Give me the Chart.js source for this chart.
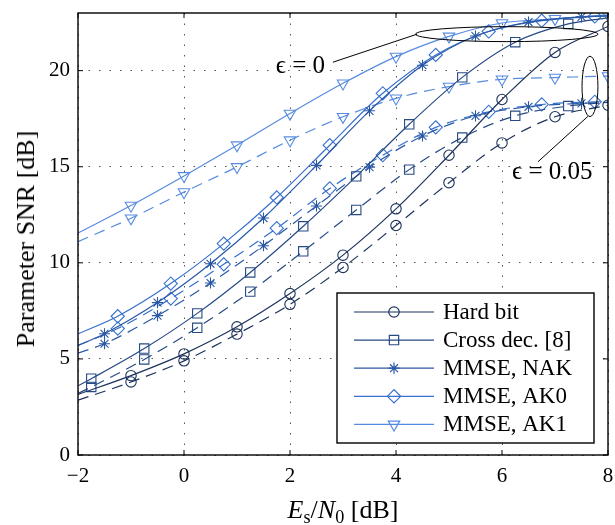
<!DOCTYPE html>
<html><head><meta charset="utf-8">
<script src="https://cdn.jsdelivr.net/npm/chart.js@4"></script>
<style>
html,body{margin:0;padding:0;background:#fff;}
#wrap{position:relative;width:615px;height:525px;overflow:hidden;}
canvas{position:absolute;left:0;top:0;}
.lbl{position:absolute;font-family:"Liberation Serif","Times New Roman",serif;color:#000;white-space:nowrap;line-height:1;}
#ytitle{left:26px;top:239px;font-size:26px;transform:translate(-50%,-50%) rotate(-90deg);}
#xtitle{left:343px;top:510px;font-size:26px;transform:translate(-50%,-50%);}
sub{font-size:0.7em;vertical-align:-0.3em;line-height:0;font-style:normal;}
</style></head><body>
<div id="wrap">
<canvas id="c" width="615" height="525"></canvas>
<div id="ytitle" class="lbl">Parameter SNR [dB]</div>
<div id="xtitle" class="lbl"><i>E</i><sub>s</sub>/<i>N</i><sub>0</sub> [dB]</div>
</div>
<script>
// ---- data ----
const xTicks = [-2, 0, 2, 4, 6, 8];
const yTicks = [0, 5, 10, 15, 20];

const hardX      = [-2, -1, 0, 1, 2, 3, 4, 5, 6, 7, 8];
const hardSolid  = [3.15, 4.13, 5.26, 6.67, 8.40, 10.40, 12.81, 15.6, 18.5, 20.95, 22.3];
const hardDashed = [2.85, 3.80, 4.90, 6.29, 7.84, 9.76, 11.94, 14.17, 16.24, 17.6, 18.2];

const crossX      = [-2, -1.75, -0.75, 0.25, 1.25, 2.25, 3.25, 4.25, 5.25, 6.25, 7.25, 8];
const crossSolid  = [3.6, 3.97, 5.54, 7.37, 9.50, 11.90, 14.5, 17.21, 19.65, 21.48, 22.43, 22.75];
const crossDashed = [3.2, 3.54, 4.97, 6.62, 8.50, 10.6, 12.75, 14.85, 16.52, 17.65, 18.16, 18.35];

const nakX      = [-2, -1.5, -0.5, 0.5, 1.5, 2.5, 3.5, 4.5, 5.5, 6.5, 7.5, 8];
const nakSolid  = [5.7, 6.31, 7.93, 9.95, 12.33, 15.07, 17.91, 20.28, 21.8, 22.53, 22.8, 22.85];
const nakDashed = [5.3, 5.79, 7.25, 8.95, 10.89, 12.96, 14.98, 16.6, 17.65, 18.12, 18.3, 18.35];

const ak0X      = [-2, -1.25, -0.25, 0.75, 1.75, 2.75, 3.75, 4.75, 5.75, 6.75, 7.75, 8];
const ak0Solid  = [6.3, 7.22, 8.92, 11.0, 13.4, 16.12, 18.82, 20.82, 22.04, 22.6, 22.82, 22.85];
const ak0Dashed = [5.7, 6.58, 8.14, 9.92, 11.8, 13.87, 15.6, 17.05, 17.86, 18.24, 18.38, 18.4];

const ak1X      = [-2, -1, 0, 1, 2, 3, 4, 5, 6, 7, 8];
const ak1Solid  = [11.55, 12.98, 14.52, 16.12, 17.77, 19.34, 20.73, 21.78, 22.48, 22.7, 22.9];
const ak1Dashed = [11.1, 12.32, 13.68, 14.99, 16.38, 17.6, 18.56, 19.17, 19.55, 19.64, 19.72];

const seriesNames = ['Hard bit', 'Cross dec. [8]', 'MMSE, NAK', 'MMSE, AK0', 'MMSE, AK1'];

// ---- styling ----
const series = [
  {name: seriesNames[0], x: hardX,  solid: hardSolid,  dashed: hardDashed,  color: '#1d335c', style: 'circle',  r: 5.2, rot: 0},
  {name: seriesNames[1], x: crossX, solid: crossSolid, dashed: crossDashed, color: '#264a84', style: 'rect',    r: 6.6, rot: 0},
  {name: seriesNames[2], x: nakX,   solid: nakSolid,   dashed: nakDashed,   color: '#2a58a5', style: 'star',    r: 5.6, rot: 0},
  {name: seriesNames[3], x: ak0X,   solid: ak0Solid,   dashed: ak0Dashed,   color: '#3670cc', style: 'rectRot', r: 6.6, rot: 0},
  {name: seriesNames[4], x: ak1X,   solid: ak1Solid,   dashed: ak1Dashed,   color: '#578bdf', style: 'triangle',r: 6.6, rot: 180}
];
const FONT = '"Liberation Serif","Times New Roman",serif';

function makeDs(s, ys, dashed) {
  const n = s.x.length;
  const radii = s.x.map((x, i) =>
    (i === 0 || (i === n - 1 && !Number.isInteger(x - s.x[1]))) ? 0 : s.r);
  return {
    label: s.name + (dashed ? ' (ϵ = 0.05)' : ' (ϵ = 0)'),
    data: s.x.map((x, i) => ({x: x, y: ys[i]})),
    borderColor: s.color,
    borderWidth: 1.2,
    borderDash: dashed ? [11, 7] : [],
    pointStyle: s.style,
    pointRotation: s.rot,
    pointRadius: radii,
    pointHoverRadius: radii,
    pointBorderColor: s.color,
    pointBackgroundColor: 'rgba(0,0,0,0)',
    pointBorderWidth: 1.1,
    cubicInterpolationMode: 'monotone',
    fill: false
  };
}
const datasets = [];
series.forEach(s => { datasets.push(makeDs(s, s.solid, false)); datasets.push(makeDs(s, s.dashed, true)); });

// ---- annotation + frame + legend plugin ----
const framePlugin = {
  id: 'frame',
  afterDatasetsDraw(chart) {
    const {ctx, scales: {x, y}} = chart;
    const px = v => x.getPixelForValue(v), py = v => y.getPixelForValue(v);
    ctx.save();
    ctx.strokeStyle = '#000';
    ctx.lineWidth = 1;
    // epsilon = 0 group
    ctx.beginPath();
    ctx.ellipse(px(6.09), py(21.9), px(6.09 + 1.72) - px(6.09), py(21.9) - py(21.9 + 0.39), 0, 0, Math.PI * 2);
    ctx.stroke();
    ctx.beginPath(); ctx.moveTo(px(2.81), py(20.44)); ctx.lineTo(px(4.40), py(21.9)); ctx.stroke();
    // epsilon = 0.05 group
    ctx.beginPath();
    ctx.ellipse(px(7.66), py(19.18), px(7.66 + 0.15) - px(7.66), py(19.18) - py(19.18 + 1.57), 0, 0, Math.PI * 2);
    ctx.stroke();
    ctx.beginPath(); ctx.moveTo(px(7.62), py(17.62)); ctx.lineTo(px(6.68), py(15.26)); ctx.stroke();
    ctx.fillStyle = '#000';
    ctx.font = '25px ' + FONT;
    ctx.textBaseline = 'middle';
    ctx.textAlign = 'right';
    ctx.fillText('ϵ = 0', px(2.66), py(20.2));
    ctx.textAlign = 'left';
    ctx.fillText('ϵ = 0.05', px(6.19), py(14.69));
    ctx.restore();
  },
  afterDraw(chart) {
    const {ctx, chartArea: a, scales: {x, y}} = chart;
    ctx.save();
    // box
    ctx.strokeStyle = '#000';
    ctx.lineWidth = 1.4;
    ctx.strokeRect(a.left, a.top, a.right - a.left, a.bottom - a.top);
    // inward ticks
    ctx.lineWidth = 1;
    const tl = 5;
    ctx.beginPath();
    xTicks.forEach(v => { const p = x.getPixelForValue(v);
      ctx.moveTo(p, a.bottom); ctx.lineTo(p, a.bottom - tl);
      ctx.moveTo(p, a.top); ctx.lineTo(p, a.top + tl); });
    yTicks.forEach(v => { const p = y.getPixelForValue(v);
      ctx.moveTo(a.left, p); ctx.lineTo(a.left + tl, p);
      ctx.moveTo(a.right, p); ctx.lineTo(a.right - tl, p); });
    ctx.stroke();
    // legend
    const bw = 257, bh = 150;
    const bx = a.right - 14 - bw, by = a.bottom - 12 - bh;
    ctx.fillStyle = '#fff';
    ctx.fillRect(bx, by, bw, bh);
    ctx.lineWidth = 1.4;
    ctx.strokeStyle = '#000';
    ctx.strokeRect(bx, by, bw, bh);
    ctx.font = '23px ' + FONT;
    ctx.textBaseline = 'middle';
    ctx.textAlign = 'left';
    series.forEach((s, i) => {
      const cy = by + 19 + i * 28.1;
      ctx.strokeStyle = s.color;
      ctx.lineWidth = 1.2;
      ctx.setLineDash([]);
      ctx.beginPath(); ctx.moveTo(bx + 17, cy); ctx.lineTo(bx + 97, cy); ctx.stroke();
      ctx.fillStyle = 'rgba(0,0,0,0)';
      Chart.helpers.drawPoint(ctx, {pointStyle: s.style, rotation: s.rot, radius: s.r, borderWidth: 1.1}, bx + 57, cy);
      ctx.fillStyle = '#000';
      ctx.fillText(s.name, bx + 106, cy + 1);
    });
    ctx.restore();
  }
};

const fmt = v => v < 0 ? '\u2212' + Math.abs(v) : String(v);
const zeroPad = s => { s.paddingTop = 0; s.paddingBottom = 0; s.paddingLeft = 0; s.paddingRight = 0; };

new Chart(document.getElementById('c'), {
  type: 'line',
  data: {datasets: datasets},
  plugins: [framePlugin],
  options: {
    responsive: false,
    animation: false,
    events: [],
    layout: {autoPadding: false, padding: {left: 0, right: 7, top: 13, bottom: 0}},
    plugins: {legend: {display: false}, tooltip: {enabled: false}},
    scales: {
      x: {
        type: 'linear', min: -2, max: 8,
        afterBuildTicks: s => { s.ticks = xTicks.map(v => ({value: v})); },
        afterFit: s => { s.height = 70; zeroPad(s); },
        grid: {color: '#555', lineWidth: 1, drawTicks: false},
        border: {display: false, dash: [1.5, 9]},
        ticks: {font: {family: FONT, size: 21}, color: '#000', padding: 9, callback: fmt, maxRotation: 0}
      },
      y: {
        type: 'linear', min: 0, max: 23,
        afterBuildTicks: s => { s.ticks = yTicks.map(v => ({value: v})); },
        afterFit: s => { s.width = 78; zeroPad(s); },
        grid: {color: '#555', lineWidth: 1, drawTicks: false},
        border: {display: false, dash: [1.5, 9]},
        ticks: {font: {family: FONT, size: 21}, color: '#000', padding: 8, callback: fmt}
      }
    }
  }
});
</script>
</body></html>
